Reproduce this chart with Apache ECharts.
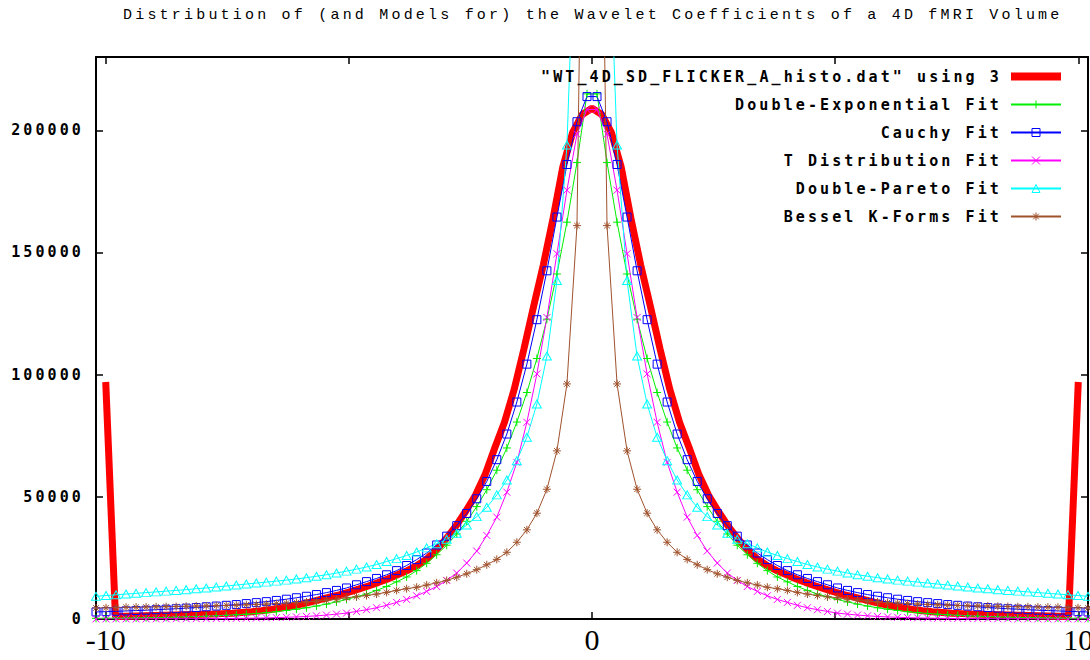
<!DOCTYPE html>
<html>
<head>
<meta charset="utf-8">
<script src="https://cdn.jsdelivr.net/npm/echarts@6/dist/echarts.min.js"></script>
<style>
  html, body { margin: 0; padding: 0; background: #fff; }
  #chart { width: 1090px; height: 660px; }
  /* gnuplot terminal font is spaced out, ~12px per character */
  #chart svg text[style*="Liberation Mono"] { letter-spacing: 3.2px; }
  #chart svg text[style*="DejaVu Sans Mono"] { letter-spacing: 3.1px; }
</style>
</head>
<body>
<div id="chart"></div>
<script>
const titleText = 'Distribution of (and Models for) the Wavelet Coefficients of a 4D fMRI Volume';
const seriesNames = [
  '"WT_4D_SD_FLICKER_A_histo.dat" using 3',
  'Double-Exponential Fit',
  'Cauchy Fit',
  'T Distribution Fit',
  'Double-Pareto Fit',
  'Bessel K-Forms Fit'
];
const xTicks = [-10, -5, 0, 5, 10];
const xTickLabels = [-10, 0, 10];
const yTicks = [0, 50000, 100000, 150000, 200000];

// histogram counts, bins -10 .. 10 (step 0.2)
const histoCounts = [
  97000, 1000, 1100, 1200, 1300, 1400, 1500, 1600, 1700, 1800,
  1900, 2000, 2200, 2400, 2700, 3000, 3400, 3900, 4500, 5200,
  6000, 6900, 7900, 8900, 9900, 11000, 12200, 13500, 14900, 16400,
  18100, 19800, 21900, 24500, 28300, 32800, 38000, 44000, 50500, 59000,
  70000, 80500, 94000, 110500, 128000, 145000, 164000, 185000, 199000, 206500,
  209000,
  206500, 199000, 185000, 164000, 145000, 128000, 110500, 94000, 80500, 70000,
  59000, 50500, 44000, 38000, 32800, 28300, 24500, 21900, 19800, 18100,
  16400, 14900, 13500, 12200, 11000, 9900, 8900, 7900, 6900, 6000,
  5200, 4500, 3900, 3400, 3000, 2700, 2400, 2200, 2000, 1900,
  1800, 1700, 1600, 1500, 1400, 1300, 1200, 1100, 1000, 97000
];

// model curves, 100 samples across the x range
const doubleExpFit = [
  250, 290, 330, 380, 440, 500, 580, 670, 770, 880,
  1000, 1150, 1300, 1500, 1700, 1950, 2250, 2600, 3000, 3500,
  4000, 4600, 5300, 6100, 7000, 8000, 9100, 10200, 11700, 13300,
  15200, 17200, 19800, 22800, 26300, 30200, 34800, 40000, 46000, 52900,
  60900, 70000, 80600, 92700, 106600, 122700, 141200, 162400, 186800, 214900,
  214900, 186800, 162400, 141200, 122700, 106600, 92700, 80600, 70000, 60900,
  52900, 46000, 40000, 34800, 30200, 26300, 22800, 19800, 17200, 15200,
  13300, 11700, 10200, 9100, 8000, 7000, 6100, 5300, 4600, 4000,
  3500, 3000, 2600, 2250, 1950, 1700, 1500, 1300, 1150, 1000,
  880, 770, 670, 580, 500, 440, 380, 330, 290, 250
];
const cauchyFit = [
  2900, 3000, 3150, 3300, 3450, 3600, 3800, 4000, 4200, 4450,
  4700, 5000, 5300, 5600, 5900, 6300, 6700, 7100, 7600, 8100,
  8700, 9300, 10000, 10800, 11700, 12700, 14000, 15300, 16600, 18100,
  19800, 21900, 24300, 27000, 30300, 33900, 38200, 43200, 49200, 56300,
  65200, 75700, 88800, 104300, 122500, 142500, 164500, 186000, 203500, 213800,
  213800, 203500, 186000, 164500, 142500, 122500, 104300, 88800, 75700, 65200,
  56300, 49200, 43200, 38200, 33900, 30300, 27000, 24300, 21900, 19800,
  18100, 16600, 15300, 14000, 12700, 11700, 10800, 10000, 9300, 8700,
  8100, 7600, 7100, 6700, 6300, 5900, 5600, 5300, 5000, 4700,
  4450, 4200, 4000, 3800, 3600, 3450, 3300, 3150, 3000, 2900
];
const tDistFit = [
  35, 40, 45, 50, 55, 60, 70, 80, 95, 110,
  130, 150, 180, 210, 250, 300, 370, 450, 560, 700,
  850, 1050, 1300, 1600, 2000, 2400, 3100, 3800, 4600, 5600,
  6800, 8000, 9500, 11300, 13300, 15800, 18800, 22900, 27800, 34200,
  41700, 51900, 64100, 80500, 100300, 123400, 149500, 175500, 198400, 208500,
  208500, 198400, 175500, 149500, 123400, 100300, 80500, 64100, 51900, 41700,
  34200, 27800, 22900, 18800, 15800, 13300, 11300, 9500, 8000, 6800,
  5600, 4600, 3800, 3100, 2400, 2000, 1600, 1300, 1050, 850,
  700, 560, 450, 370, 300, 250, 210, 180, 150, 130,
  110, 95, 80, 70, 60, 55, 50, 45, 40, 35
];
const doubleParetoFit = [
  9300, 9600, 9900, 10200, 10500, 10800, 11100, 11400, 11700, 12000,
  12400, 12700, 13100, 13500, 13900, 14300, 14700, 15100, 15500, 15900,
  16400, 16900, 17500, 18100, 18800, 19600, 20400, 21300, 22300, 23500,
  24700, 26000, 27400, 29100, 30800, 32600, 35100, 38500, 41900, 45700,
  50800, 56900, 64800, 74400, 88000, 107600, 138500, 194000, 310000, 700000,
  700000, 310000, 194000, 138500, 107600, 88000, 74400, 64800, 56900, 50800,
  45700, 41900, 38500, 35100, 32600, 30800, 29100, 27400, 26000, 24700,
  23500, 22300, 21300, 20400, 19600, 18800, 18100, 17500, 16900, 16400,
  15900, 15500, 15100, 14700, 14300, 13900, 13500, 13100, 12700, 12400,
  12000, 11700, 11400, 11100, 10800, 10500, 10200, 9900, 9600, 9300
];
const besselKFit = [
  4500, 4600, 4700, 4800, 4850, 4900, 5000, 5050, 5100, 5200,
  5300, 5350, 5450, 5550, 5650, 5800, 5950, 6100, 6300, 6500,
  6750, 7000, 7300, 7700, 8100, 8700, 9100, 9600, 10200, 10900,
  11700, 12400, 13000, 13900, 14800, 15800, 17100, 18500, 20200, 22200,
  24400, 27300, 31400, 36500, 43300, 53100, 68800, 96200, 161000, 460000,
  460000, 161000, 96200, 68800, 53100, 43300, 36500, 31400, 27300, 24400,
  22200, 20200, 18500, 17100, 15800, 14800, 13900, 13000, 12400, 11700,
  10900, 10200, 9600, 9100, 8700, 8100, 7700, 7300, 7000, 6750,
  6500, 6300, 6100, 5950, 5800, 5650, 5550, 5450, 5350, 5300,
  5200, 5100, 5050, 5000, 4900, 4850, 4800, 4700, 4600, 4500
];

// x positions: histogram bins every 0.2, fits sampled 100 times over [-10.2, 10.2]
const binX = histoCounts.map((_, i) => +(-10 + 0.2 * i).toFixed(1));
const sampleX = cauchyFit.map((_, i) => -10.2 + i * 20.4 / 99);

const chart = echarts.init(document.getElementById('chart'), null, { renderer: 'svg' });

function fitSeries(name, values, color, symbol, size) {
  return {
    name: name,
    type: 'line',
    data: values.map((v, i) => [sampleX[i], v]),
    symbol: symbol,
    symbolSize: size,
    showAllSymbol: true,
    lineStyle: { color: color, width: 1 },
    itemStyle: { color: 'rgba(0,0,0,0)', borderColor: color, borderWidth: 1 },
    emphasis: { disabled: true },
    silent: true
  };
}

const axisBlack = { color: '#000', width: 2 };
const tickBlack = { color: '#000', width: 1.5 };
const option = {
  animation: false,
  backgroundColor: '#fff',
  title: {
    text: titleText,
    left: 123,
    top: 8,
    padding: 0,
    textStyle: { fontFamily: 'Liberation Mono', fontSize: 15, fontWeight: 'normal', color: '#000' }
  },
  legend: {
    orient: 'vertical',
    right: 28,
    top: 69,
    align: 'right',
    padding: 0,
    itemWidth: 50,
    itemHeight: 10,
    itemGap: 13,
    selectedMode: false,
    itemStyle: { borderWidth: 1 },
    textStyle: { fontFamily: 'DejaVu Sans Mono', fontWeight: 'bold', fontSize: 15, color: '#000', padding: [0, 4, 0, 0] },
    data: [
      // thick bar for the histogram, no marker
      { name: seriesNames[0], icon: 'path://M0,0H50V8H0Z' },
      seriesNames[1], seriesNames[2], seriesNames[3], seriesNames[4], seriesNames[5]
    ]
  },
  grid: { left: 96, right: 2, top: 57, bottom: 41, outerBoundsMode: 'none' },
  xAxis: [{
    type: 'value', min: -10.2, max: 10.2, position: 'bottom',
    axisLine: { show: true, onZero: false, lineStyle: axisBlack },
    axisTick: { show: true, inside: true, length: 7, customValues: xTicks, lineStyle: tickBlack },
    axisLabel: { show: true, customValues: xTickLabels, fontFamily: 'Liberation Serif', fontSize: 30, color: '#000', margin: 5 },
    splitLine: { show: false }
  }, {
    type: 'value', min: -10.2, max: 10.2, position: 'top',
    axisLine: { show: true, onZero: false, lineStyle: axisBlack },
    axisTick: { show: true, inside: true, length: 7, customValues: xTicks, lineStyle: tickBlack },
    axisLabel: { show: false },
    splitLine: { show: false }
  }],
  yAxis: [{
    type: 'value', min: 0, max: 230000, position: 'left',
    axisLine: { show: true, onZero: false, lineStyle: axisBlack },
    axisTick: { show: true, inside: true, length: 7, customValues: yTicks, lineStyle: tickBlack },
    axisLabel: {
      customValues: yTicks,
      formatter: v => String(v),
      fontFamily: 'DejaVu Sans Mono', fontWeight: 'bold', fontSize: 15, color: '#000', margin: 12
    },
    splitLine: { show: false }
  }, {
    type: 'value', min: 0, max: 230000, position: 'right',
    axisLine: { show: true, onZero: false, lineStyle: axisBlack },
    axisTick: { show: true, inside: true, length: 7, customValues: yTicks, lineStyle: tickBlack },
    axisLabel: { show: false },
    splitLine: { show: false }
  }],
  series: [
    {
      name: seriesNames[0],
      type: 'line',
      data: histoCounts.map((v, i) => [binX[i], v]),
      symbol: 'none',
      lineStyle: { color: '#ff0000', width: 7 },
      itemStyle: { color: '#ff0000' },
      emphasis: { disabled: true },
      silent: true
    },
    fitSeries(seriesNames[1], doubleExpFit, '#00ee00', 'path://M5,0V10M0,5H10', 8),
    fitSeries(seriesNames[2], cauchyFit, '#0000ff', 'path://M0,0H10V10H0Z', 8),
    fitSeries(seriesNames[3], tDistFit, '#ff00ff', 'path://M0,0L10,10M10,0L0,10', 7),
    fitSeries(seriesNames[4], doubleParetoFit, '#00ffff', 'path://M5,0L10,9H0Z', [9, 8]),
    fitSeries(seriesNames[5], besselKFit, '#a0522d', 'path://M5,0V10M0,5H10M1.5,1.5L8.5,8.5M8.5,1.5L1.5,8.5', 8)
  ]
};
chart.setOption(option);
</script>
</body>
</html>
